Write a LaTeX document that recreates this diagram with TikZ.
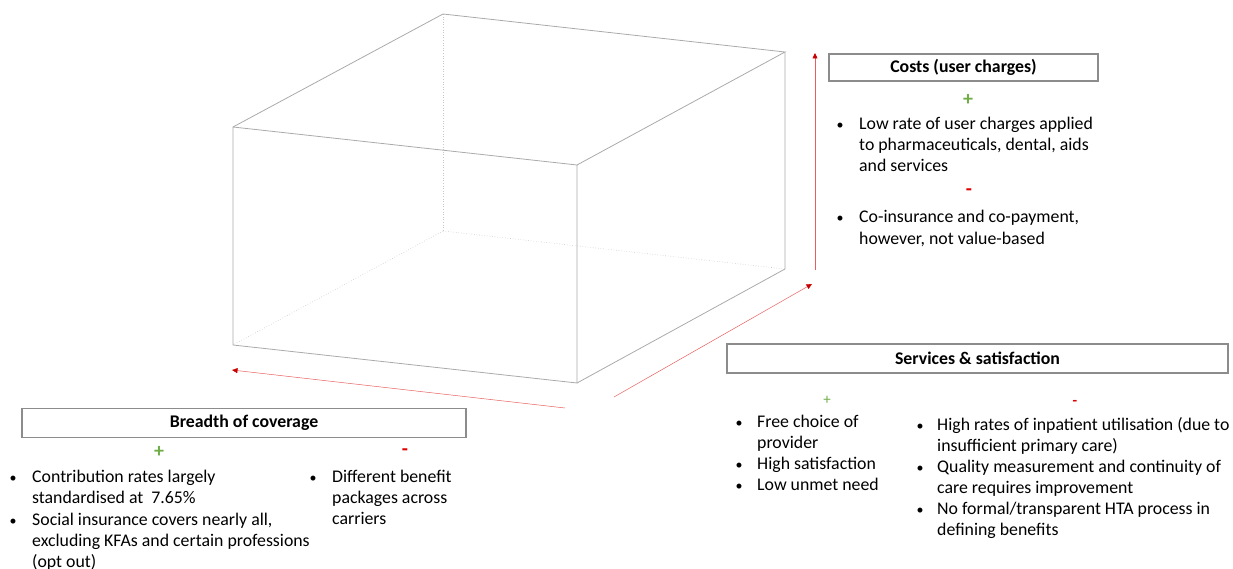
\documentclass[tikz,border=0pt]{standalone}
\usepackage{fontspec}
\setmainfont{Carlito}
\usetikzlibrary{arrows.meta}
\definecolor{cubeg}{RGB}{170,170,170}
\definecolor{hideg}{RGB}{200,200,200}
\definecolor{arrred}{RGB}{232,95,95}
\definecolor{headred}{RGB}{200,0,0}
\definecolor{plusg}{RGB}{112,173,71}
\definecolor{minusr}{RGB}{225,0,0}
\definecolor{boxg}{RGB}{140,140,140}
\begin{document}
\begin{tikzpicture}[x=1pt,y=-1pt,
 edge/.style={draw=cubeg, line width=0.8pt},
 hidden/.style={draw=hideg, line width=0.6pt, dotted},
 axis/.style={draw=arrred, line width=0.5pt, -{Triangle[length=5.5pt,width=5pt,color=headred]}},
 titlebox/.style={draw=boxg, line width=1.1pt, inner sep=0pt, font=\fontsize{17.8}{20}\selectfont\bfseries},
 txt/.style={anchor=base west, inner sep=0pt, font=\fontsize{17.8}{21}\selectfont},
 bul/.style={anchor=base, inner sep=0pt, font=\fontsize{14}{21}\selectfont},
 plusbig/.style={text=plusg, inner sep=0pt, font=\fontsize{20}{20}\selectfont\bfseries},
 minusbig/.style={text=minusr, inner sep=0pt, font=\fontsize{20}{20}\selectfont\bfseries},
 plussmall/.style={text=plusg, inner sep=0pt, font=\fontsize{15}{15}\selectfont},
 minussmall/.style={text=minusr, inner sep=0pt, font=\fontsize{15}{15}\selectfont\bfseries}
]
\useasboundingbox (0,0) rectangle (1233,569);

% cube corners
\coordinate (ftl) at (233,127);
\coordinate (ftr) at (577,165);
\coordinate (fbr) at (577,383);
\coordinate (fbl) at (233,345);
\coordinate (btl) at (443,14);
\coordinate (btr) at (785,52);
\coordinate (bbr) at (785,269);
\coordinate (bbl) at (443,231);

% hidden edges
\draw[hidden] (btl) -- (bbl);
\draw[hidden] (bbl) -- (fbl);
\draw[hidden] (bbl) -- (bbr);
% visible edges
\draw[edge] (ftl) -- (ftr) -- (fbr) -- (fbl) -- cycle;
\draw[edge] (ftl) -- (btl) -- (btr) -- (ftr);
\draw[edge] (btr) -- (bbr) -- (fbr);

% axes
\coordinate (vS) at (815,270);
\coordinate (vE) at (815,53);
\coordinate (dS) at (614,397);
\coordinate (dE) at (812,284);
\coordinate (hS) at (565,408);
\coordinate (hE) at (232,370);
\draw[axis] (vS) -- (vE);
\draw[axis] (dS) -- (dE);
\draw[axis] (hS) -- (hE);

% Costs
\node[titlebox, minimum width=269pt, minimum height=27pt] (costs) at (963.5,67.5) {Costs (user charges)};
\node[plusbig] (cplus) at (968,100) {+};
\node[bul] (cb1) at (840,130) {•};
\node[txt] (c1a) at (859,130) {Low rate of user charges applied};
\node[txt] (c1b) at (859,151) {to pharmaceuticals, dental, aids};
\node[txt] (c1c) at (859,172) {and services};
\node[minusbig] (cminus) at (969,192) {-};
\node[bul] (cb2) at (840,223) {•};
\node[txt] (c2a) at (859,223) {Co-insurance and co-payment,};
\node[txt] (c2b) at (859,244) {however, not value-based};

% Services
\node[titlebox, minimum width=501pt, minimum height=29pt] (serv) at (977.5,358.5) {Services \& satisfaction};
\node[plussmall] (splus) at (827,400) {+};
\node[minussmall] (sminus) at (1075,403) {-};
\node[bul] (sb1) at (739,427) {•};
\node[txt] (s1a) at (757,427) {Free choice of};
\node[txt] (s1b) at (757,448) {provider};
\node[bul] (sb2) at (739,469) {•};
\node[txt] (s2a) at (757,469) {High satisfaction};
\node[bul] (sb3) at (739,490) {•};
\node[txt] (s3a) at (757,490) {Low unmet need};
\node[bul] (sb4) at (920,430) {•};
\node[txt] (s4a) at (937,430) {High rates of inpatient utilisation (due to};
\node[txt] (s4b) at (937,451) {insufficient primary care)};
\node[bul] (sb5) at (920,472) {•};
\node[txt] (s5a) at (937,472) {Quality measurement and continuity of};
\node[txt] (s5b) at (937,493) {care requires improvement};
\node[bul] (sb6) at (920,514) {•};
\node[txt] (s6a) at (937,514) {No formal/transparent HTA process in};
\node[txt] (s6b) at (937,535) {defining benefits};

% Breadth
\node[titlebox, minimum width=444pt, minimum height=29pt] (breadth) at (244,423) {Breadth of coverage};
\node[plusbig] (bplus) at (159,452) {+};
\node[minusbig] (bminus) at (405,452) {-};
\node[bul] (bb1) at (13,482) {•};
\node[txt] (b1a) at (32,482) {Contribution rates largely};
\node[txt] (b1b) at (32,503) {standardised at \ 7.65\%};
\node[bul] (bb2) at (13,525) {•};
\node[txt] (b2a) at (32,525) {Social insurance covers nearly all,};
\node[txt] (b2b) at (32,546) {excluding KFAs and certain professions};
\node[txt] (b2c) at (32,567) {(opt out)};
\node[bul] (bb3) at (313,482) {•};
\node[txt] (b3a) at (332,482) {Different benefit};
\node[txt] (b3b) at (332,503) {packages across};
\node[txt] (b3c) at (332,524) {carriers};
\end{tikzpicture}
\end{document}
